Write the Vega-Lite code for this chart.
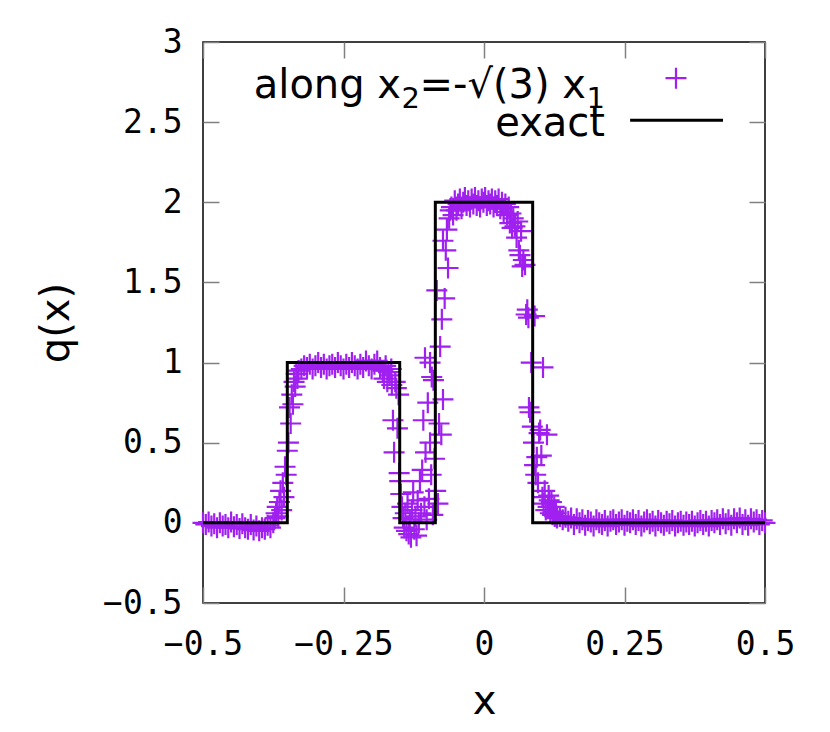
{
  "$schema": "https://vega.github.io/schema/vega-lite/v6.json",
  "width": 562,
  "height": 561,
  "autosize": {"type": "none"},
  "padding": {"left": 203, "top": 42, "right": 65, "bottom": 129},
  "background": "white",
  "config": {"view": {"stroke": "black", "strokeWidth": 1.5}},
  "datasets": {
    "pts": [
      {"x": -0.500, "q": 0.00}, {"x": -0.495, "q": -0.01}, {"x": -0.490, "q": 0.005}, {"x": -0.485, "q": -0.02},
      {"x": -0.480, "q": -0.005}, {"x": -0.475, "q": -0.03}, {"x": -0.470, "q": 0.0}, {"x": -0.465, "q": -0.02},
      {"x": -0.460, "q": -0.01}, {"x": -0.455, "q": -0.03}, {"x": -0.450, "q": 0.005}, {"x": -0.445, "q": -0.025},
      {"x": -0.440, "q": -0.01}, {"x": -0.435, "q": -0.035}, {"x": -0.430, "q": -0.005}, {"x": -0.425, "q": -0.03},
      {"x": -0.420, "q": -0.04}, {"x": -0.415, "q": -0.01}, {"x": -0.410, "q": -0.045}, {"x": -0.405, "q": -0.02},
      {"x": -0.400, "q": -0.05}, {"x": -0.395, "q": -0.03}, {"x": -0.390, "q": -0.04}, {"x": -0.385, "q": -0.015},
      {"x": -0.380, "q": -0.03}, {"x": -0.375, "q": 0.0},
      {"x": -0.372, "q": 0.03}, {"x": -0.370, "q": 0.06}, {"x": -0.368, "q": 0.10}, {"x": -0.366, "q": 0.04},
      {"x": -0.364, "q": 0.13}, {"x": -0.362, "q": 0.20}, {"x": -0.360, "q": 0.08}, {"x": -0.358, "q": 0.25},
      {"x": -0.356, "q": 0.16}, {"x": -0.354, "q": 0.35}, {"x": -0.352, "q": 0.30}, {"x": -0.350, "q": 0.45},
      {"x": -0.348, "q": 0.50}, {"x": -0.346, "q": 0.72}, {"x": -0.344, "q": 0.62}, {"x": -0.342, "q": 0.80},
      {"x": -0.340, "q": 0.74}, {"x": -0.338, "q": 0.88}, {"x": -0.336, "q": 0.85}, {"x": -0.334, "q": 0.93},
      {"x": -0.332, "q": 0.90}, {"x": -0.330, "q": 0.95},
      {"x": -0.325, "q": 0.96}, {"x": -0.320, "q": 0.98}, {"x": -0.315, "q": 0.97}, {"x": -0.310, "q": 0.99},
      {"x": -0.305, "q": 0.96}, {"x": -0.300, "q": 0.98}, {"x": -0.295, "q": 1.00}, {"x": -0.290, "q": 0.97},
      {"x": -0.285, "q": 0.99}, {"x": -0.280, "q": 0.96}, {"x": -0.275, "q": 0.98}, {"x": -0.270, "q": 0.99},
      {"x": -0.265, "q": 0.97}, {"x": -0.260, "q": 1.00}, {"x": -0.255, "q": 0.98}, {"x": -0.250, "q": 0.96},
      {"x": -0.245, "q": 0.99}, {"x": -0.240, "q": 0.97}, {"x": -0.235, "q": 1.00}, {"x": -0.230, "q": 0.98},
      {"x": -0.225, "q": 0.96}, {"x": -0.220, "q": 0.99}, {"x": -0.215, "q": 0.97}, {"x": -0.210, "q": 1.01},
      {"x": -0.205, "q": 0.98}, {"x": -0.200, "q": 0.96}, {"x": -0.195, "q": 0.99}, {"x": -0.190, "q": 1.01},
      {"x": -0.185, "q": 0.97}, {"x": -0.180, "q": 0.95}, {"x": -0.175, "q": 0.98}, {"x": -0.170, "q": 0.94},
      {"x": -0.165, "q": 0.96}, {"x": -0.178, "q": 0.90}, {"x": -0.172, "q": 0.88}, {"x": -0.168, "q": 0.92},
      {"x": -0.164, "q": 0.86}, {"x": -0.162, "q": 0.64}, {"x": -0.160, "q": 0.44}, {"x": -0.158, "q": 0.88},
      {"x": -0.156, "q": 0.84}, {"x": -0.154, "q": 0.59}, {"x": -0.152, "q": 0.80}, {"x": -0.151, "q": 0.31},
      {"x": -0.150, "q": 0.26}, {"x": -0.148, "q": 0.18}, {"x": -0.146, "q": 0.10}, {"x": -0.144, "q": 0.03},
      {"x": -0.142, "q": -0.03}, {"x": -0.140, "q": 0.06}, {"x": -0.138, "q": -0.05}, {"x": -0.136, "q": 0.12},
      {"x": -0.134, "q": -0.07}, {"x": -0.132, "q": 0.02}, {"x": -0.130, "q": -0.09}, {"x": -0.128, "q": 0.08},
      {"x": -0.126, "q": 0.19}, {"x": -0.124, "q": -0.04}, {"x": -0.122, "q": 0.04}, {"x": -0.120, "q": -0.08},
      {"x": -0.118, "q": 0.14}, {"x": -0.116, "q": 0.00}, {"x": -0.114, "q": 0.26}, {"x": -0.112, "q": 0.06},
      {"x": -0.110, "q": 0.33}, {"x": -0.108, "q": 0.64}, {"x": -0.106, "q": 0.10}, {"x": -0.105, "q": 1.03},
      {"x": -0.104, "q": 0.44}, {"x": -0.102, "q": 0.02}, {"x": -0.100, "q": 0.75}, {"x": -0.098, "q": 0.15},
      {"x": -0.096, "q": 0.50}, {"x": -0.096, "q": 1.00}, {"x": -0.094, "q": 0.30}, {"x": -0.093, "q": 0.91},
      {"x": -0.091, "q": 0.05}, {"x": -0.090, "q": 0.89}, {"x": -0.088, "q": 0.40}, {"x": -0.086, "q": 0.20},
      {"x": -0.084, "q": 1.45}, {"x": -0.082, "q": 0.12}, {"x": -0.080, "q": 0.62}, {"x": -0.078, "q": 1.10},
      {"x": -0.076, "q": 0.55}, {"x": -0.075, "q": 1.27}, {"x": -0.073, "q": 0.77}, {"x": -0.073, "q": 1.76},
      {"x": -0.070, "q": 1.40}, {"x": -0.068, "q": 1.70}, {"x": -0.066, "q": 1.83}, {"x": -0.064, "q": 1.59},
      {"x": -0.062, "q": 1.90}, {"x": -0.060, "q": 1.95},
      {"x": -0.058, "q": 1.97}, {"x": -0.055, "q": 1.92}, {"x": -0.052, "q": 2.01}, {"x": -0.049, "q": 1.95},
      {"x": -0.046, "q": 1.99}, {"x": -0.043, "q": 2.02}, {"x": -0.040, "q": 1.96}, {"x": -0.037, "q": 2.00},
      {"x": -0.034, "q": 2.03}, {"x": -0.031, "q": 1.98}, {"x": -0.028, "q": 2.01}, {"x": -0.025, "q": 1.97},
      {"x": -0.022, "q": 2.02}, {"x": -0.019, "q": 1.99}, {"x": -0.016, "q": 2.03}, {"x": -0.013, "q": 1.98},
      {"x": -0.010, "q": 2.01}, {"x": -0.007, "q": 1.97}, {"x": -0.004, "q": 2.02}, {"x": -0.001, "q": 2.00},
      {"x": 0.002, "q": 2.03}, {"x": 0.005, "q": 1.98}, {"x": 0.008, "q": 2.01}, {"x": 0.011, "q": 1.99},
      {"x": 0.014, "q": 2.02}, {"x": 0.017, "q": 1.97}, {"x": 0.020, "q": 2.01}, {"x": 0.023, "q": 1.98},
      {"x": 0.026, "q": 2.02}, {"x": 0.029, "q": 1.96}, {"x": 0.032, "q": 2.00}, {"x": 0.035, "q": 1.94},
      {"x": 0.038, "q": 1.99}, {"x": 0.041, "q": 1.92}, {"x": 0.044, "q": 1.97},
      {"x": 0.046, "q": 1.87}, {"x": 0.048, "q": 1.93}, {"x": 0.050, "q": 1.84}, {"x": 0.052, "q": 1.90},
      {"x": 0.055, "q": 1.85}, {"x": 0.058, "q": 1.78}, {"x": 0.060, "q": 1.88}, {"x": 0.062, "q": 1.70},
      {"x": 0.064, "q": 1.67}, {"x": 0.066, "q": 1.82}, {"x": 0.068, "q": 1.60}, {"x": 0.070, "q": 1.64},
      {"x": 0.073, "q": 1.61}, {"x": 0.075, "q": 1.30}, {"x": 0.077, "q": 1.33}, {"x": 0.079, "q": 1.28},
      {"x": 0.090, "q": 1.29}, {"x": 0.080, "q": 0.72}, {"x": 0.082, "q": 0.69}, {"x": 0.084, "q": 1.00},
      {"x": 0.086, "q": 0.60}, {"x": 0.088, "q": 0.50}, {"x": 0.090, "q": 0.36}, {"x": 0.092, "q": 0.30},
      {"x": 0.094, "q": 0.41}, {"x": 0.096, "q": 0.25}, {"x": 0.098, "q": 0.56}, {"x": 0.100, "q": 0.58},
      {"x": 0.102, "q": 0.42}, {"x": 0.104, "q": 0.16}, {"x": 0.105, "q": 0.97}, {"x": 0.106, "q": 0.12},
      {"x": 0.108, "q": 0.20}, {"x": 0.110, "q": 0.08}, {"x": 0.112, "q": 0.55}, {"x": 0.114, "q": 0.10},
      {"x": 0.115, "q": 0.17}, {"x": 0.116, "q": 0.14}, {"x": 0.118, "q": 0.06}, {"x": 0.120, "q": 0.13},
      {"x": 0.122, "q": 0.05}, {"x": 0.124, "q": 0.07}, {"x": 0.125, "q": 0.10}, {"x": 0.126, "q": 0.04},
      {"x": 0.128, "q": 0.06}, {"x": 0.130, "q": 0.03},
      {"x": 0.135, "q": 0.04}, {"x": 0.140, "q": 0.02}, {"x": 0.145, "q": 0.035}, {"x": 0.150, "q": 0.01},
      {"x": 0.155, "q": 0.03}, {"x": 0.160, "q": -0.01}, {"x": 0.165, "q": 0.025}, {"x": 0.170, "q": 0.0},
      {"x": 0.175, "q": 0.02}, {"x": 0.180, "q": -0.015}, {"x": 0.185, "q": 0.015}, {"x": 0.190, "q": 0.005},
      {"x": 0.195, "q": -0.02}, {"x": 0.200, "q": 0.02}, {"x": 0.205, "q": 0.0}, {"x": 0.210, "q": -0.01},
      {"x": 0.215, "q": 0.015}, {"x": 0.220, "q": -0.02}, {"x": 0.225, "q": 0.01}, {"x": 0.230, "q": 0.02},
      {"x": 0.235, "q": -0.01}, {"x": 0.240, "q": 0.005}, {"x": 0.245, "q": 0.02}, {"x": 0.250, "q": -0.015},
      {"x": 0.255, "q": 0.01}, {"x": 0.260, "q": 0.0}, {"x": 0.265, "q": 0.02}, {"x": 0.270, "q": -0.01},
      {"x": 0.275, "q": 0.015}, {"x": 0.280, "q": -0.02}, {"x": 0.285, "q": 0.005}, {"x": 0.290, "q": 0.02},
      {"x": 0.295, "q": -0.005}, {"x": 0.300, "q": 0.01}, {"x": 0.305, "q": -0.02}, {"x": 0.310, "q": 0.015},
      {"x": 0.315, "q": 0.0}, {"x": 0.320, "q": -0.015}, {"x": 0.325, "q": 0.01}, {"x": 0.330, "q": -0.005},
      {"x": 0.335, "q": 0.015}, {"x": 0.340, "q": -0.02}, {"x": 0.345, "q": 0.0}, {"x": 0.350, "q": 0.01},
      {"x": 0.355, "q": -0.015}, {"x": 0.360, "q": 0.005}, {"x": 0.365, "q": -0.01}, {"x": 0.370, "q": 0.01},
      {"x": 0.375, "q": -0.02}, {"x": 0.380, "q": 0.0}, {"x": 0.385, "q": 0.015}, {"x": 0.390, "q": -0.01},
      {"x": 0.395, "q": 0.01}, {"x": 0.400, "q": -0.02}, {"x": 0.405, "q": 0.015}, {"x": 0.410, "q": 0.0},
      {"x": 0.415, "q": 0.02}, {"x": 0.420, "q": -0.01}, {"x": 0.425, "q": 0.025}, {"x": 0.430, "q": -0.005},
      {"x": 0.435, "q": 0.02}, {"x": 0.440, "q": -0.015}, {"x": 0.445, "q": 0.025}, {"x": 0.450, "q": 0.0},
      {"x": 0.455, "q": 0.03}, {"x": 0.460, "q": -0.01}, {"x": 0.465, "q": 0.02}, {"x": 0.470, "q": -0.015},
      {"x": 0.475, "q": 0.025}, {"x": 0.480, "q": 0.005}, {"x": 0.485, "q": 0.02}, {"x": 0.490, "q": -0.01},
      {"x": 0.495, "q": 0.015}, {"x": 0.500, "q": 0.0}
    ],
    "exact": [
      {"i": 0, "x": -0.5, "q": 0}, {"i": 1, "x": -0.35, "q": 0}, {"i": 2, "x": -0.35, "q": 1},
      {"i": 3, "x": -0.15, "q": 1}, {"i": 4, "x": -0.15, "q": 0}, {"i": 5, "x": -0.0866, "q": 0},
      {"i": 6, "x": -0.0866, "q": 2}, {"i": 7, "x": 0.0866, "q": 2}, {"i": 8, "x": 0.0866, "q": 0},
      {"i": 9, "x": 0.5, "q": 0}
    ],
    "key": [{"k": "key"}]
  },
  "layer": [
    {
      "data": {"name": "pts"},
      "mark": {"type": "point", "shape": "M-1,0L1,0M0,-1L0,1", "filled": false, "stroke": "#a020f0", "strokeWidth": 2.2, "size": 441, "opacity": 1},
      "encoding": {
        "x": {"field": "x", "type": "quantitative",
          "scale": {"domain": [-0.5, 0.5], "nice": false, "zero": false},
          "axis": {"orient": "bottom", "values": [-0.5, -0.25, 0, 0.25, 0.5], "labelExpr": "replace(toString(datum.value), '-', '−')",
            "labelFont": "DejaVu Sans Mono", "labelFontSize": 33, "labelColor": "black", "labelFlush": false, "labelOverlap": false,
            "tickSize": -16, "tickColor": "#808080", "tickWidth": 1.5, "domain": false, "grid": false, "labelPadding": 41,
            "title": "x", "titleFont": "DejaVu Sans", "titleFontSize": 40, "titleFontWeight": "normal", "titleColor": "black", "titlePadding": 20}},
        "y": {"field": "q", "type": "quantitative",
          "scale": {"domain": [-0.5, 3], "nice": false, "zero": false},
          "axis": {"orient": "left", "values": [-0.5, 0, 0.5, 1, 1.5, 2, 2.5, 3], "labelExpr": "replace(toString(datum.value), '-', '−')",
            "labelFont": "DejaVu Sans Mono", "labelFontSize": 33, "labelColor": "black", "labelFlush": false, "labelOverlap": false,
            "tickSize": -16, "tickColor": "#808080", "tickWidth": 1.5, "domain": false, "grid": false, "labelPadding": 37,
            "title": "q(x)", "titleFont": "DejaVu Sans", "titleFontSize": 40, "titleFontWeight": "normal", "titleColor": "black", "titlePadding": 26}}
      }
    },
    {
      "data": {"name": "exact"},
      "mark": {"type": "line", "color": "black", "strokeWidth": 3},
      "encoding": {
        "x": {"field": "x", "type": "quantitative",
          "scale": {"domain": [-0.5, 0.5], "nice": false, "zero": false},
          "axis": {"orient": "top", "values": [-0.5, -0.25, 0, 0.25, 0.5], "labels": false, "tickSize": -16, "tickColor": "#808080", "tickWidth": 1.5, "domain": false, "grid": false, "title": null}},
        "y": {"field": "q", "type": "quantitative",
          "scale": {"domain": [-0.5, 3], "nice": false, "zero": false},
          "axis": {"orient": "right", "values": [-0.5, 0, 0.5, 1, 1.5, 2, 2.5, 3], "labels": false, "tickSize": -16, "tickColor": "#808080", "tickWidth": 1.5, "domain": false, "grid": false, "title": null}},
        "order": {"field": "i", "type": "quantitative"}
      }
    },
    {
      "data": {"name": "key"},
      "mark": {"type": "text", "align": "right", "baseline": "alphabetic", "font": "DejaVu Sans", "fontSize": 40, "color": "black", "dx": -204},
      "encoding": {
        "x": {"datum": 0.2153, "type": "quantitative", "scale": {"domain": [-0.5, 0.5], "nice": false, "zero": false}, "axis": null},
        "y": {"datum": 2.65, "type": "quantitative", "scale": {"domain": [-0.5, 3], "nice": false, "zero": false}, "axis": null},
        "text": {"value": "along x"}
      }
    },
    {
      "data": {"name": "key"},
      "mark": {"type": "text", "align": "right", "baseline": "alphabetic", "font": "DejaVu Sans", "fontSize": 29, "color": "black", "dx": -185, "dy": 10},
      "encoding": {
        "x": {"datum": 0.2153, "type": "quantitative", "scale": {"domain": [-0.5, 0.5], "nice": false, "zero": false}, "axis": null},
        "y": {"datum": 2.65, "type": "quantitative", "scale": {"domain": [-0.5, 3], "nice": false, "zero": false}, "axis": null},
        "text": {"value": "2"}
      }
    },
    {
      "data": {"name": "key"},
      "mark": {"type": "text", "align": "right", "baseline": "alphabetic", "font": "DejaVu Sans", "fontSize": 40, "color": "black", "dx": -19},
      "encoding": {
        "x": {"datum": 0.2153, "type": "quantitative", "scale": {"domain": [-0.5, 0.5], "nice": false, "zero": false}, "axis": null},
        "y": {"datum": 2.65, "type": "quantitative", "scale": {"domain": [-0.5, 3], "nice": false, "zero": false}, "axis": null},
        "text": {"value": "=-√(3) x"}
      }
    },
    {
      "data": {"name": "key"},
      "mark": {"type": "text", "align": "right", "baseline": "alphabetic", "font": "DejaVu Sans", "fontSize": 29, "color": "black", "dy": 10},
      "encoding": {
        "x": {"datum": 0.2153, "type": "quantitative", "scale": {"domain": [-0.5, 0.5], "nice": false, "zero": false}, "axis": null},
        "y": {"datum": 2.65, "type": "quantitative", "scale": {"domain": [-0.5, 3], "nice": false, "zero": false}, "axis": null},
        "text": {"value": "1"}
      }
    },
    {
      "data": {"name": "key"},
      "mark": {"type": "text", "align": "right", "baseline": "alphabetic", "font": "DejaVu Sans", "fontSize": 40, "color": "black"},
      "encoding": {
        "x": {"datum": 0.2153, "type": "quantitative", "scale": {"domain": [-0.5, 0.5], "nice": false, "zero": false}, "axis": null},
        "y": {"datum": 2.413, "type": "quantitative", "scale": {"domain": [-0.5, 3], "nice": false, "zero": false}, "axis": null},
        "text": {"value": "exact"}
      }
    },
    {
      "data": {"name": "key"},
      "mark": {"type": "point", "shape": "M-1,0L1,0M0,-1L0,1", "filled": false, "stroke": "#a020f0", "strokeWidth": 2.2, "size": 441, "opacity": 1},
      "encoding": {
        "x": {"datum": 0.3416, "type": "quantitative", "scale": {"domain": [-0.5, 0.5], "nice": false, "zero": false}, "axis": null},
        "y": {"datum": 2.774, "type": "quantitative", "scale": {"domain": [-0.5, 3], "nice": false, "zero": false}, "axis": null}
      }
    },
    {
      "data": {"name": "key"},
      "mark": {"type": "rule", "color": "black", "strokeWidth": 3},
      "encoding": {
        "x": {"datum": 0.26, "type": "quantitative", "scale": {"domain": [-0.5, 0.5], "nice": false, "zero": false}, "axis": null},
        "x2": {"datum": 0.4253},
        "y": {"datum": 2.5125, "type": "quantitative", "scale": {"domain": [-0.5, 3], "nice": false, "zero": false}, "axis": null}
      }
    }
  ],
  "resolve": {"axis": {"x": "independent", "y": "independent"}}
}
